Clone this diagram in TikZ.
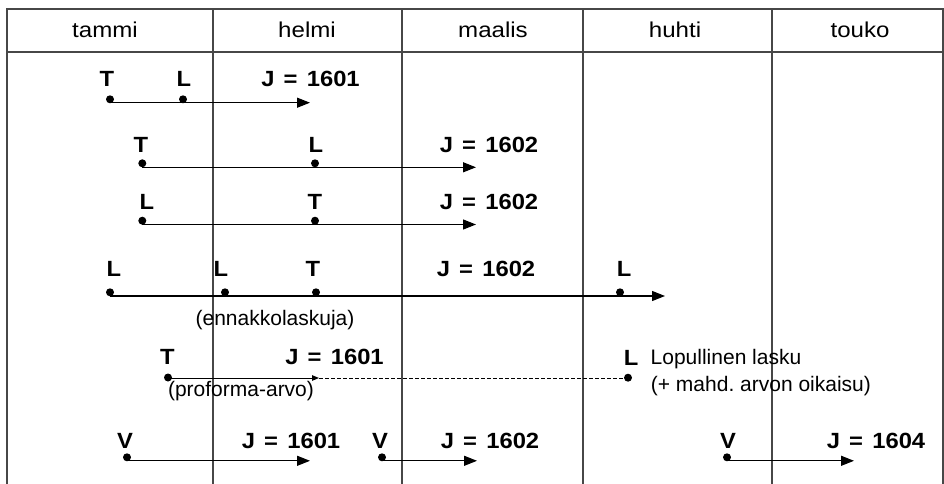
\documentclass[tikz,border=0pt]{standalone}
\usepackage{fontspec}
\setmainfont{Liberation Sans}
\newfontfamily\hdrf{Liberation Sans}[FakeStretch=1.12]
\newfontfamily\jfont{Liberation Sans}[WordSpace=1.4, FakeStretch=1.08]
\usetikzlibrary{arrows.meta}
\frenchspacing
\tikzset{
  hdr/.style={font=\hdrf\fontsize{21.5}{26}\selectfont, inner sep=0pt},
  lab/.style={font=\jfont\bfseries\fontsize{22}{26}\selectfont, inner sep=0pt},
  note/.style={font=\fontsize{21}{25}\selectfont\frenchspacing, inner sep=0pt},
  dotn/.style={circle, fill=black, inner sep=0pt, minimum size=8pt},
  arr/.style={line width=1.1pt, -{Triangle[length=13pt,width=10pt]}},
  smallarr/.style={line width=1pt, -{Triangle[length=7pt,width=5.5pt]}},
  dashline/.style={line width=1pt, dash pattern=on 3.5pt off 2.5pt},
  tbl/.style={line width=1.4pt, draw=black!72}
}
\begin{document}
\begin{tikzpicture}[x=1pt,y=-1pt]
\useasboundingbox (0,0) rectangle (944,484);
% table
\draw[tbl] (7,484) -- (7,9) -- (943,9) -- (943,484);
\draw[tbl] (7,52) -- (943,52);
\foreach \x in {213,402,583,772} \draw[tbl] (\x,9) -- (\x,484);
% header
\node[hdr] (h1) at (105,29.5) {tammi};
\node[hdr] (h2) at (307,29.5) {helmi};
\node[hdr] (h3) at (493,29.5) {maalis};
\node[hdr] (h4) at (675,29.5) {huhti};
\node[hdr] (h5) at (860,29.5) {touko};
% row 1
\node[lab] (r1T) at (107,79) {T};
\node[lab] (r1L) at (184,79) {L};
\node[lab] (r1J) at (310.5,79) {J = 1601};
\coordinate (r1s) at (110,102.7);
\coordinate (r1e) at (310,102.7);
\draw[arr] (r1s) -- (r1e);
\node[dotn] (r1d1) at (110,99.3) {};
\node[dotn] (r1d2) at (183,99.3) {};
% row 2
\node[lab] (r2T) at (141,144.5) {T};
\node[lab] (r2L) at (316,144.5) {L};
\node[lab] (r2J) at (489,144.5) {J = 1602};
\coordinate (r2s) at (142,167.3);
\coordinate (r2e) at (476,167.3);
\draw[arr] (r2s) -- (r2e);
\node[dotn] (r2d1) at (142.3,163.3) {};
\node[dotn] (r2d2) at (315,163.3) {};
% row 3
\node[lab] (r3L) at (147,202) {L};
\node[lab] (r3T) at (315,202) {T};
\node[lab] (r3J) at (489,202) {J = 1602};
\coordinate (r3s) at (142,224.5);
\coordinate (r3e) at (476,224.5);
\draw[arr] (r3s) -- (r3e);
\node[dotn] (r3d1) at (142.3,220.7) {};
\node[dotn] (r3d2) at (315,220.7) {};
% row 4
\node[lab] (r4L1) at (114,269) {L};
\node[lab] (r4L2) at (221,269) {L};
\node[lab] (r4T) at (313,269) {T};
\node[lab] (r4J) at (486,269) {J = 1602};
\node[lab] (r4L3) at (624,269) {L};
\coordinate (r4s) at (110,296);
\coordinate (r4e) at (665,296);
\draw[arr] (r4s) -- (r4e);
\node[dotn] (r4d1) at (110,292.3) {};
\node[dotn] (r4d2) at (225,292.3) {};
\node[dotn] (r4d3) at (316,292.3) {};
\node[dotn] (r4d4) at (620,292.3) {};
\node[note, anchor=base] (ennak) at (275,325) {(ennakkolaskuja)};
% row 5
\node[lab] (r5T) at (167.5,357) {T};
\node[lab] (r5J) at (334.5,357) {J = 1601};
\coordinate (r5s) at (168,378);
\coordinate (r5m) at (319,378);
\coordinate (r5e) at (624,378);
\draw[smallarr] (r5s) -- (r5m);
\draw[dashline] (r5m) -- (r5e);
\node[dotn] (r5d1) at (168,377.5) {};
\node[dotn] (r5d2) at (628,377.7) {};
\node[lab] (r5L) at (631,357.5) {L};
\node[note, anchor=base west] (lop) at (650.5,364.5) {Lopullinen lasku};
\node[note, anchor=base west] (mahd) at (650.7,391.7) {(+ mahd. arvon oikaisu)};
\node[note, anchor=base] (profo) at (241,396) {(proforma-arvo)};
% row 6
\node[lab] (r6V1) at (125,440.5) {V};
\node[lab] (r6J1) at (291,440.5) {J = 1601};
\node[lab] (r6V2) at (380,440.5) {V};
\node[lab] (r6J2) at (490,440.5) {J = 1602};
\node[lab] (r6V3) at (728,440.5) {V};
\node[lab] (r6J3) at (876,440.5) {J = 1604};
\coordinate (r6s1) at (127,460.8);
\coordinate (r6e1) at (310,460.8);
\coordinate (r6s2) at (382,460.8);
\coordinate (r6e2) at (477,460.8);
\coordinate (r6s3) at (727,460.8);
\coordinate (r6e3) at (854,460.8);
\draw[arr] (r6s1) -- (r6e1);
\draw[arr] (r6s2) -- (r6e2);
\draw[arr] (r6s3) -- (r6e3);
\node[dotn] (r6d1) at (127,457.3) {};
\node[dotn] (r6d2) at (382,457.3) {};
\node[dotn] (r6d3) at (727,457.3) {};
\end{tikzpicture}
\end{document}
